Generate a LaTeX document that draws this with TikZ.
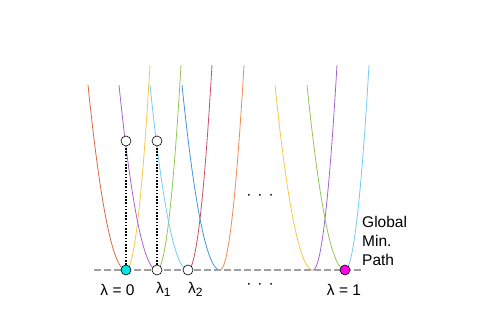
\documentclass[tikz,border=0pt]{standalone}
\usepackage{fontspec}
\setmainfont{Liberation Sans}
\definecolor{cBrown}{HTML}{D66A45}
\definecolor{cYellow}{HTML}{F6C843}
\definecolor{cPurple}{HTML}{A665C6}
\definecolor{cGreen}{HTML}{93C45A}
\definecolor{cLBlue}{HTML}{72CDF0}
\definecolor{cCrimson}{HTML}{C9506A}
\definecolor{cBlue}{HTML}{4394D8}
\definecolor{cOrange}{HTML}{F18A5A}
\definecolor{cGray}{HTML}{A0A0A0}
\definecolor{cStart}{HTML}{00E6E6}
\definecolor{cEnd}{HTML}{FF00E6}
\tikzset{
  curve/.style={line width=0.8pt},
  dot/.style={circle, draw=black, line width=0.6pt, minimum size=10pt, inner sep=0pt},
  guide/.style={line width=1.7pt, dash pattern=on 1.5pt off 1.7pt, black},
  base/.style={cGray, line width=1.4pt, dash pattern=on 7pt off 3pt},
  lab/.style={font=\fontsize{15.5}{19}\selectfont, inner sep=0pt, anchor=base}
}
\newcommand{\leftbr}[2]{\draw[curve,#2] plot[domain=0:1,samples=40,smooth] ({#1-38*\x},{270-185*\x*\x});}
\newcommand{\rightbr}[2]{\draw[curve,#2] plot[domain=0:1,samples=40,smooth] ({#1+24*\x},{270-205*\x*\x});}
\newcommand{\threedots}{·\hspace{6pt}·\hspace{6pt}·}
\begin{document}
\begin{tikzpicture}[x=1pt,y=-1pt]
\useasboundingbox (0,0) rectangle (485,332);
% parabolas
\leftbr{126}{cBrown}  \rightbr{126}{cYellow}
\leftbr{157}{cPurple} \rightbr{157}{cGreen}
\leftbr{188}{cLBlue}  \rightbr{188}{cCrimson}
\leftbr{220}{cBlue}   \rightbr{220}{cOrange}
\leftbr{313}{cYellow} \rightbr{313}{cPurple}
\leftbr{345}{cGreen}  \rightbr{345}{cLBlue}
% baseline
\coordinate (bl) at (94,270);
\coordinate (br) at (362,270);
\draw[base] (bl) -- (br);
% points
\node[dot, fill=cStart] (p0) at (126,270) {};
\node[dot, fill=white] (p1) at (157,270) {};
\node[dot, fill=white] (p2) at (188,270) {};
\node[dot, fill=cEnd] (pN) at (345,270) {};
\node[dot, fill=white] (t0) at (126,141) {};
\node[dot, fill=white] (t1) at (157,141) {};
\draw[guide] (p0.north) -- (t0.south);
\draw[guide] (p1.north) -- (t1.south);
% labels
\node[lab] (l0) at (117.5,295) {λ = 0};
\node[lab, anchor=base west] (l1) at (156,293) {λ\raisebox{-0.45ex}{\fontsize{12}{12}\selectfont 1}};
\node[lab, anchor=base west] (l2) at (188,293) {λ\raisebox{-0.45ex}{\fontsize{12}{12}\selectfont 2}};
\node[lab] (lN) at (344,295) {λ = 1};
\node[lab] (d1) at (260,288) {\threedots};
\node[lab] (d2) at (260,199) {\threedots};
\node[lab, anchor=north west, align=left] (gm) at (362,216) {Global\\Min.\\Path};
\end{tikzpicture}
\end{document}
